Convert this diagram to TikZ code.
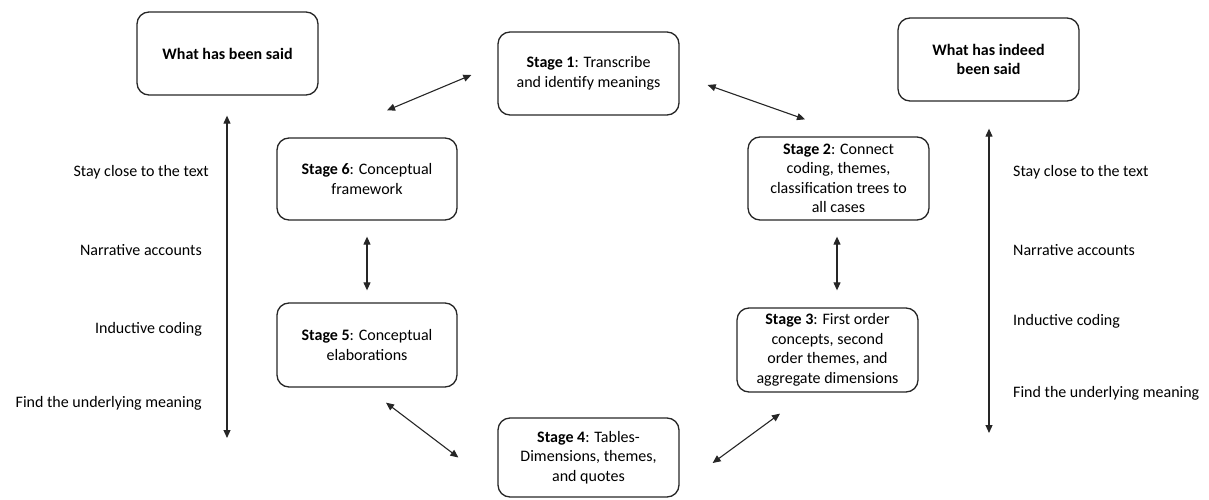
\documentclass[tikz,border=0pt]{standalone}
\usepackage{fontspec}
\setmainfont{Carlito}
\usetikzlibrary{arrows.meta,calc}
\begin{document}
\begin{tikzpicture}[x=1pt,y=-1pt,
  every node/.style={font=\fontsize{16}{19.5}\selectfont, text=black},
  card/.style={draw=black!85, line width=1.3pt, rounded corners=12pt,
    minimum width=181pt, minimum height=83pt, align=center, inner sep=2pt},
  link/.style={line width=1.1pt, draw=black!85,
    {Triangle[length=8pt,width=7pt]}-{Triangle[length=8pt,width=7pt]}},
  leftlbl/.style={anchor=east, inner sep=0pt},
  rightlbl/.style={anchor=west, inner sep=0pt}]
\useasboundingbox (0,0) rectangle (1209,500);

% outer boxes
\node[card] (said) at (227.5,53.5) {\textbf{What has been said}};
\node[card] (indeed) at (988.5,59.5) {\textbf{What has indeed}\\\textbf{been said}};

% stage boxes
\node[card] (s1) at (588.5,73.5) {\textbf{Stage 1}: Transcribe\\and identify meanings};
\node[card] (s2) at (838.5,178.5) {\textbf{Stage 2}: Connect\\coding, themes,\\classification trees to\\all cases};
\node[card, minimum height=84pt] (s3) at (827.5,350) {\textbf{Stage 3}: First order\\concepts, second\\order themes, and\\aggregate dimensions};
\node[card, minimum height=79pt] (s4) at (588.5,457.5) {\textbf{Stage 4}: Tables-\\Dimensions, themes,\\and quotes};
\node[card, minimum width=180pt, minimum height=84pt] (s5) at (367,345) {\textbf{Stage 5}: Conceptual\\elaborations};
\node[card, minimum width=180pt, minimum height=82pt] (s6) at (367,179) {\textbf{Stage 6}: Conceptual\\framework};

% links between stages
\draw[link] ($(s6.north)+(20,-27)$) -- ($(s1.west)+(-26,1.5)$);
\draw[link] ($(s1.east)+(28,11.5)$) -- ($(s2.north)+(-33.5,-17)$);
\draw[link] ($(s2.south)+(-1.5,16)$) -- ($(s3.north)+(9.5,-17)$);
\draw[link] ($(s3.south)+(-47.5,21)$) -- ($(s4.east)+(33,5.5)$);
\draw[link] ($(s4.west)+(-39,0)$) -- ($(s5.south)+(19,15)$);
\draw[link] ($(s5.north)+(0,-12)$) -- ($(s6.south)+(0,16)$);

% long vertical scales
\coordinate (lend) at (227,438);
\coordinate (rend) at (989,433);
\draw[link] ($(said.south)+(-0.5,20)$) -- (lend);
\draw[link] ($(indeed.south)+(0.5,27)$) -- (rend);

% left labels
\node[leftlbl] (l1) at (209,172) {Stay close to the text};
\node[leftlbl] (l2) at (202,250) {Narrative accounts};
\node[leftlbl] (l3) at (202,329) {Inductive coding};
\node[leftlbl] (l4) at (202,403) {Find the underlying meaning};

% right labels
\node[rightlbl] (r1) at (1013,172) {Stay close to the text};
\node[rightlbl] (r2) at (1013,250) {Narrative accounts};
\node[rightlbl] (r3) at (1013,321) {Inductive coding};
\node[rightlbl] (r4) at (1013,393) {Find the underlying meaning};
\end{tikzpicture}
\end{document}
